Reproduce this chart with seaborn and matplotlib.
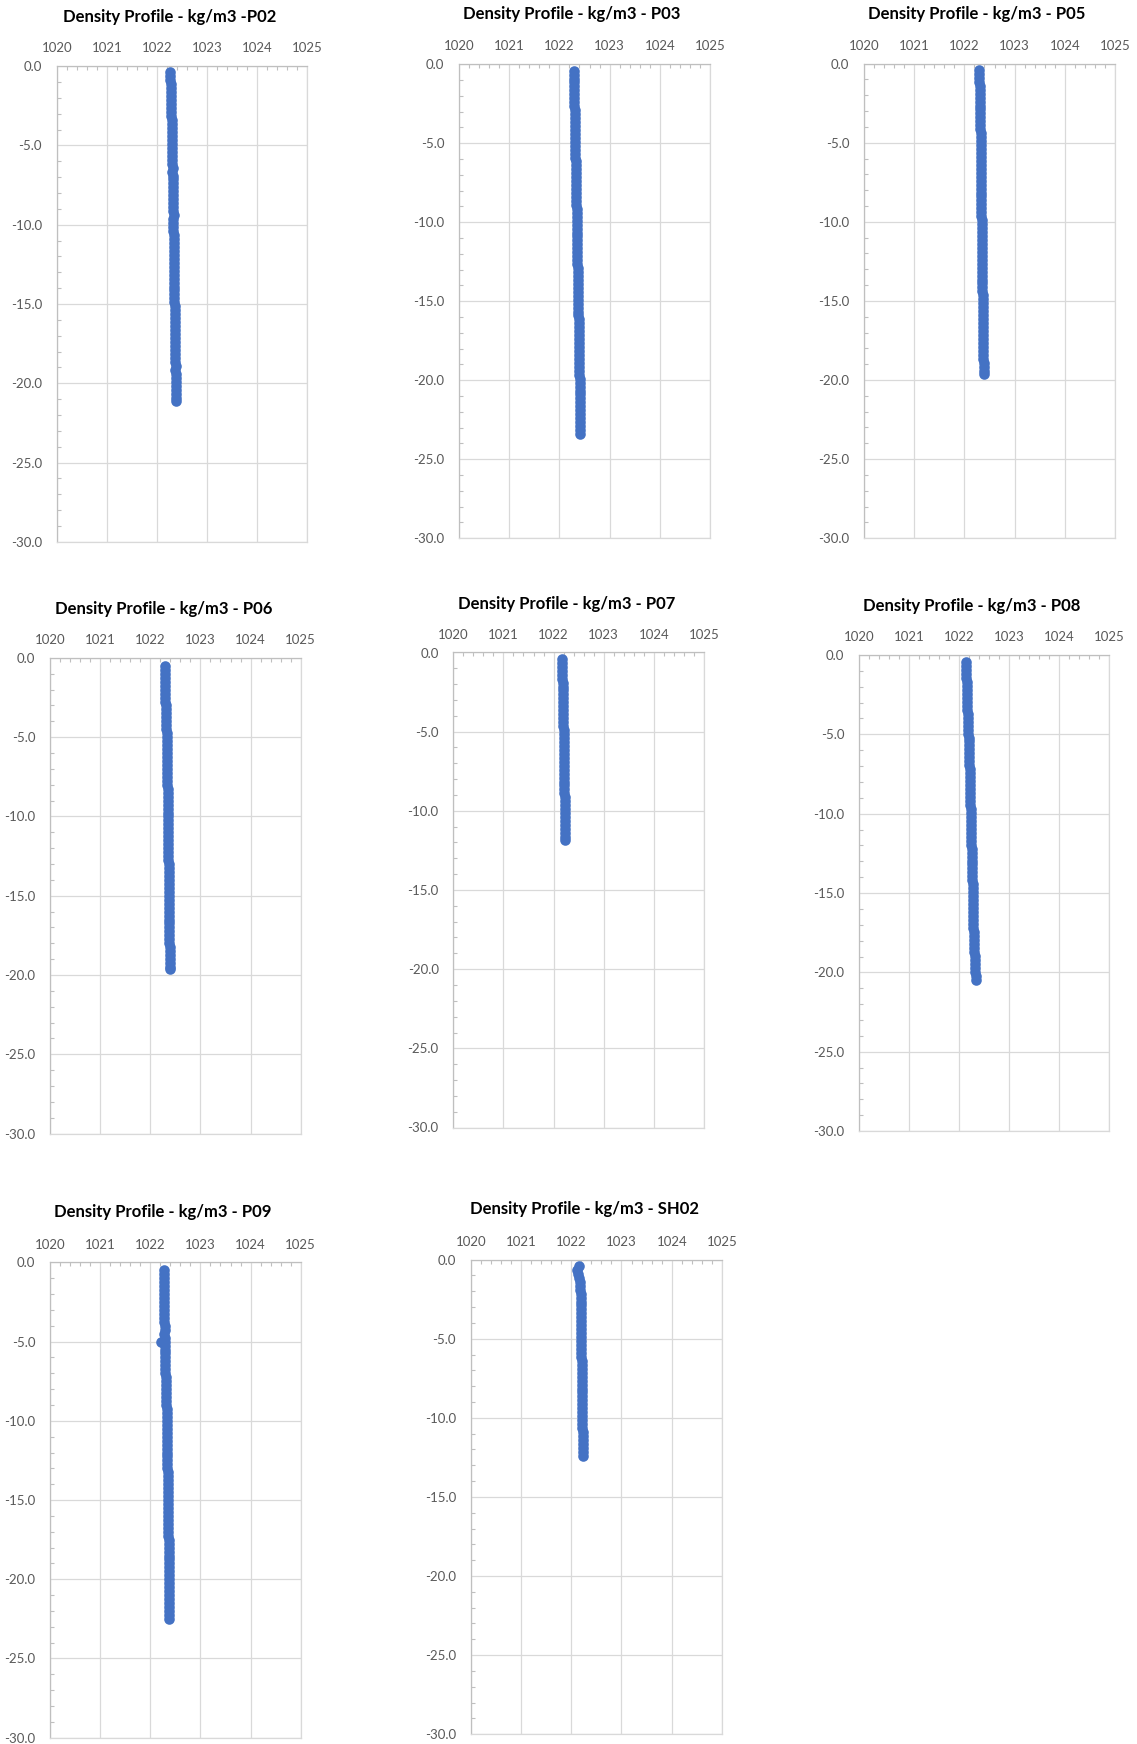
import numpy as np
import matplotlib
matplotlib.use("Agg")
import matplotlib.pyplot as plt
from matplotlib.ticker import MultipleLocator, FormatStrFormatter
import seaborn as sns

# station names
stations = ["P02", "P03", "P05", "P06", "P07", "P08", "P09", "SH02"]
titles = ["Density Profile - kg/m3 -P02", "Density Profile - kg/m3 - P03",
          "Density Profile - kg/m3 - P05", "Density Profile - kg/m3 - P06",
          "Density Profile - kg/m3 - P07", "Density Profile - kg/m3 - P08",
          "Density Profile - kg/m3 - P09", "Density Profile - kg/m3 - SH02"]

# depth (m, negative down) and density (kg/m3)
depth_p02 = [-0.40, -0.65, -0.90, -1.15, -1.40, -1.65, -1.90, -2.15, -2.40, -2.65,
             -2.90, -3.15, -3.40, -3.65, -3.90, -4.15, -4.40, -4.65, -4.90, -5.15,
             -5.40, -5.65, -5.90, -6.15, -6.40, -6.65, -6.90, -7.15, -7.40, -7.65,
             -7.90, -8.15, -8.40, -8.65, -8.90, -9.15, -9.40, -9.65, -9.90, -10.15,
             -10.40, -10.65, -10.90, -11.15, -11.40, -11.65, -11.90, -12.15, -12.40, -12.65,
             -12.90, -13.15, -13.40, -13.65, -13.90, -14.15, -14.40, -14.65, -14.90, -15.15,
             -15.40, -15.65, -15.90, -16.15, -16.40, -16.65, -16.90, -17.15, -17.40, -17.65,
             -17.90, -18.15, -18.40, -18.65, -18.90, -19.15, -19.40, -19.65, -19.90, -20.15,
             -20.40, -20.65, -20.90, -21.10]
dens_p02 = [1022.27, 1022.27, 1022.27, 1022.28, 1022.28, 1022.28, 1022.28, 1022.28, 1022.29, 1022.29,
            1022.29, 1022.29, 1022.30, 1022.30, 1022.30, 1022.30, 1022.30, 1022.31, 1022.31, 1022.31,
            1022.31, 1022.31, 1022.31, 1022.31, 1022.32, 1022.31, 1022.32, 1022.32, 1022.32, 1022.32,
            1022.32, 1022.32, 1022.33, 1022.33, 1022.33, 1022.33, 1022.34, 1022.33, 1022.33, 1022.33,
            1022.33, 1022.34, 1022.34, 1022.34, 1022.34, 1022.34, 1022.34, 1022.34, 1022.34, 1022.35,
            1022.35, 1022.35, 1022.35, 1022.35, 1022.35, 1022.35, 1022.35, 1022.35, 1022.35, 1022.36,
            1022.36, 1022.36, 1022.36, 1022.36, 1022.37, 1022.36, 1022.37, 1022.37, 1022.37, 1022.37,
            1022.37, 1022.37, 1022.37, 1022.37, 1022.38, 1022.37, 1022.38, 1022.38, 1022.38, 1022.38,
            1022.38, 1022.38, 1022.38, 1022.38]

depth_p03 = [-0.40, -0.65, -0.90, -1.15, -1.40, -1.65, -1.90, -2.15, -2.40, -2.65,
             -2.90, -3.15, -3.40, -3.65, -3.90, -4.15, -4.40, -4.65, -4.90, -5.15,
             -5.40, -5.65, -5.90, -6.15, -6.40, -6.65, -6.90, -7.15, -7.40, -7.65,
             -7.90, -8.15, -8.40, -8.65, -8.90, -9.15, -9.40, -9.65, -9.90, -10.15,
             -10.40, -10.65, -10.90, -11.15, -11.40, -11.65, -11.90, -12.15, -12.40, -12.65,
             -12.90, -13.15, -13.40, -13.65, -13.90, -14.15, -14.40, -14.65, -14.90, -15.15,
             -15.40, -15.65, -15.90, -16.15, -16.40, -16.65, -16.90, -17.15, -17.40, -17.65,
             -17.90, -18.15, -18.40, -18.65, -18.90, -19.15, -19.40, -19.65, -19.90, -20.15,
             -20.40, -20.65, -20.90, -21.15, -21.40, -21.65, -21.90, -22.15, -22.40, -22.65,
             -22.90, -23.15, -23.40]
dens_p03 = [1022.29, 1022.29, 1022.29, 1022.29, 1022.30, 1022.30, 1022.30, 1022.30, 1022.30, 1022.30,
            1022.31, 1022.31, 1022.31, 1022.31, 1022.31, 1022.31, 1022.32, 1022.32, 1022.32, 1022.32,
            1022.32, 1022.32, 1022.32, 1022.33, 1022.33, 1022.33, 1022.33, 1022.33, 1022.33, 1022.34,
            1022.34, 1022.34, 1022.34, 1022.34, 1022.34, 1022.35, 1022.35, 1022.35, 1022.35, 1022.35,
            1022.35, 1022.35, 1022.35, 1022.36, 1022.36, 1022.36, 1022.36, 1022.36, 1022.36, 1022.36,
            1022.37, 1022.37, 1022.37, 1022.37, 1022.37, 1022.37, 1022.38, 1022.38, 1022.38, 1022.38,
            1022.38, 1022.38, 1022.38, 1022.39, 1022.39, 1022.39, 1022.39, 1022.39, 1022.39, 1022.39,
            1022.40, 1022.40, 1022.40, 1022.40, 1022.40, 1022.40, 1022.40, 1022.40, 1022.41, 1022.41,
            1022.41, 1022.41, 1022.41, 1022.41, 1022.41, 1022.41, 1022.41, 1022.41, 1022.41, 1022.42,
            1022.42, 1022.42, 1022.42]

depth_p05 = [-0.40, -0.65, -0.90, -1.15, -1.40, -1.65, -1.90, -2.15, -2.40, -2.65,
             -2.90, -3.15, -3.40, -3.65, -3.90, -4.15, -4.40, -4.65, -4.90, -5.15,
             -5.40, -5.65, -5.90, -6.15, -6.40, -6.65, -6.90, -7.15, -7.40, -7.65,
             -7.90, -8.15, -8.40, -8.65, -8.90, -9.15, -9.40, -9.65, -9.90, -10.15,
             -10.40, -10.65, -10.90, -11.15, -11.40, -11.65, -11.90, -12.15, -12.40, -12.65,
             -12.90, -13.15, -13.40, -13.65, -13.90, -14.15, -14.40, -14.65, -14.90, -15.15,
             -15.40, -15.65, -15.90, -16.15, -16.40, -16.65, -16.90, -17.15, -17.40, -17.65,
             -17.90, -18.15, -18.40, -18.65, -18.90, -19.15, -19.40, -19.60]
dens_p05 = [1022.30, 1022.30, 1022.30, 1022.30, 1022.31, 1022.31, 1022.31, 1022.31, 1022.31, 1022.32,
            1022.32, 1022.32, 1022.32, 1022.32, 1022.32, 1022.32, 1022.33, 1022.33, 1022.33, 1022.33,
            1022.33, 1022.33, 1022.33, 1022.33, 1022.33, 1022.34, 1022.34, 1022.34, 1022.34, 1022.34,
            1022.34, 1022.34, 1022.34, 1022.34, 1022.34, 1022.34, 1022.34, 1022.34, 1022.35, 1022.35,
            1022.35, 1022.35, 1022.35, 1022.35, 1022.35, 1022.35, 1022.35, 1022.36, 1022.35, 1022.36,
            1022.36, 1022.36, 1022.36, 1022.36, 1022.36, 1022.36, 1022.36, 1022.37, 1022.37, 1022.37,
            1022.37, 1022.37, 1022.37, 1022.37, 1022.37, 1022.38, 1022.37, 1022.38, 1022.38, 1022.38,
            1022.38, 1022.38, 1022.38, 1022.38, 1022.39, 1022.39, 1022.39, 1022.39]

depth_p06 = [-0.50, -0.75, -1.00, -1.25, -1.50, -1.75, -2.00, -2.25, -2.50, -2.75,
             -3.00, -3.25, -3.50, -3.75, -4.00, -4.25, -4.50, -4.75, -5.00, -5.25,
             -5.50, -5.75, -6.00, -6.25, -6.50, -6.75, -7.00, -7.25, -7.50, -7.75,
             -8.00, -8.25, -8.50, -8.75, -9.00, -9.25, -9.50, -9.75, -10.00, -10.25,
             -10.50, -10.75, -11.00, -11.25, -11.50, -11.75, -12.00, -12.25, -12.50, -12.75,
             -13.00, -13.25, -13.50, -13.75, -14.00, -14.25, -14.50, -14.75, -15.00, -15.25,
             -15.50, -15.75, -16.00, -16.25, -16.50, -16.75, -17.00, -17.25, -17.50, -17.75,
             -18.00, -18.25, -18.50, -18.75, -19.00, -19.25, -19.50, -19.65]
dens_p06 = [1022.29, 1022.29, 1022.29, 1022.29, 1022.30, 1022.30, 1022.30, 1022.30, 1022.30, 1022.30,
            1022.31, 1022.31, 1022.31, 1022.31, 1022.32, 1022.32, 1022.32, 1022.33, 1022.33, 1022.33,
            1022.33, 1022.33, 1022.33, 1022.33, 1022.34, 1022.34, 1022.34, 1022.34, 1022.34, 1022.34,
            1022.34, 1022.35, 1022.35, 1022.35, 1022.35, 1022.35, 1022.35, 1022.35, 1022.35, 1022.35,
            1022.35, 1022.36, 1022.36, 1022.36, 1022.36, 1022.36, 1022.36, 1022.36, 1022.36, 1022.36,
            1022.37, 1022.37, 1022.37, 1022.37, 1022.37, 1022.37, 1022.37, 1022.37, 1022.37, 1022.37,
            1022.37, 1022.38, 1022.38, 1022.38, 1022.38, 1022.38, 1022.38, 1022.38, 1022.38, 1022.38,
            1022.38, 1022.39, 1022.39, 1022.39, 1022.39, 1022.39, 1022.39, 1022.39]

depth_p07 = [-0.40, -0.65, -0.90, -1.15, -1.40, -1.65, -1.90, -2.15, -2.40, -2.65,
             -2.90, -3.15, -3.40, -3.65, -3.90, -4.15, -4.40, -4.65, -4.90, -5.15,
             -5.40, -5.65, -5.90, -6.15, -6.40, -6.65, -6.90, -7.15, -7.40, -7.65,
             -7.90, -8.15, -8.40, -8.65, -8.90, -9.15, -9.40, -9.65, -9.90, -10.15,
             -10.40, -10.65, -10.90, -11.15, -11.40, -11.65, -11.85]
dens_p07 = [1022.17, 1022.17, 1022.17, 1022.17, 1022.17, 1022.17, 1022.18, 1022.18, 1022.18, 1022.18,
            1022.18, 1022.18, 1022.19, 1022.19, 1022.19, 1022.19, 1022.19, 1022.19, 1022.20, 1022.20,
            1022.20, 1022.20, 1022.20, 1022.20, 1022.20, 1022.21, 1022.20, 1022.21, 1022.21, 1022.21,
            1022.21, 1022.21, 1022.21, 1022.21, 1022.21, 1022.22, 1022.22, 1022.22, 1022.22, 1022.22,
            1022.22, 1022.22, 1022.22, 1022.23, 1022.23, 1022.23, 1022.23]

depth_p08 = [-0.45, -0.70, -0.95, -1.20, -1.45, -1.70, -1.95, -2.20, -2.45, -2.70,
             -2.95, -3.20, -3.45, -3.70, -3.95, -4.20, -4.45, -4.70, -4.95, -5.20,
             -5.45, -5.70, -5.95, -6.20, -6.45, -6.70, -6.95, -7.20, -7.45, -7.70,
             -7.95, -8.20, -8.45, -8.70, -8.95, -9.20, -9.45, -9.70, -9.95, -10.20,
             -10.45, -10.70, -10.95, -11.20, -11.45, -11.70, -11.95, -12.20, -12.45, -12.70,
             -12.95, -13.20, -13.45, -13.70, -13.95, -14.20, -14.45, -14.70, -14.95, -15.20,
             -15.45, -15.70, -15.95, -16.20, -16.45, -16.70, -16.95, -17.20, -17.45, -17.70,
             -17.95, -18.20, -18.45, -18.70, -18.95, -19.20, -19.45, -19.70, -19.95, -20.20,
             -20.45]
dens_p08 = [1022.14, 1022.14, 1022.14, 1022.14, 1022.14, 1022.15, 1022.15, 1022.15, 1022.15, 1022.15,
            1022.16, 1022.16, 1022.16, 1022.17, 1022.17, 1022.17, 1022.18, 1022.18, 1022.18, 1022.19,
            1022.19, 1022.19, 1022.19, 1022.20, 1022.20, 1022.20, 1022.20, 1022.21, 1022.21, 1022.21,
            1022.21, 1022.21, 1022.22, 1022.22, 1022.22, 1022.22, 1022.22, 1022.23, 1022.23, 1022.23,
            1022.23, 1022.23, 1022.24, 1022.24, 1022.24, 1022.24, 1022.24, 1022.25, 1022.25, 1022.25,
            1022.25, 1022.26, 1022.26, 1022.26, 1022.26, 1022.26, 1022.27, 1022.27, 1022.27, 1022.27,
            1022.27, 1022.27, 1022.28, 1022.28, 1022.28, 1022.28, 1022.28, 1022.28, 1022.29, 1022.29,
            1022.29, 1022.30, 1022.30, 1022.30, 1022.31, 1022.31, 1022.31, 1022.32, 1022.32, 1022.33,
            1022.33]

depth_p09 = [-0.50, -0.75, -1.00, -1.25, -1.50, -1.75, -2.00, -2.25, -2.50, -2.75,
             -3.00, -3.25, -3.50, -3.75, -4.00, -4.25, -4.50, -4.75, -5.00, -5.25,
             -5.50, -5.75, -6.00, -6.25, -6.50, -6.75, -7.00, -7.25, -7.50, -7.75,
             -8.00, -8.25, -8.50, -8.75, -9.00, -9.25, -9.50, -9.75, -10.00, -10.25,
             -10.50, -10.75, -11.00, -11.25, -11.50, -11.75, -12.00, -12.25, -12.50, -12.75,
             -13.00, -13.25, -13.50, -13.75, -14.00, -14.25, -14.50, -14.75, -15.00, -15.25,
             -15.50, -15.75, -16.00, -16.25, -16.50, -16.75, -17.00, -17.25, -17.50, -17.75,
             -18.00, -18.25, -18.50, -18.75, -19.00, -19.25, -19.50, -19.75, -20.00, -20.25,
             -20.50, -20.75, -21.00, -21.25, -21.50, -21.75, -22.00, -22.25, -22.50, -5.05]
dens_p09 = [1022.27, 1022.27, 1022.27, 1022.27, 1022.27, 1022.27, 1022.28, 1022.28, 1022.28, 1022.28,
            1022.28, 1022.28, 1022.28, 1022.28, 1022.29, 1022.29, 1022.28, 1022.29, 1022.29, 1022.29,
            1022.29, 1022.29, 1022.30, 1022.30, 1022.30, 1022.30, 1022.30, 1022.31, 1022.31, 1022.31,
            1022.31, 1022.32, 1022.32, 1022.32, 1022.32, 1022.33, 1022.33, 1022.33, 1022.33, 1022.33,
            1022.33, 1022.33, 1022.33, 1022.34, 1022.34, 1022.34, 1022.34, 1022.34, 1022.34, 1022.34,
            1022.34, 1022.35, 1022.35, 1022.35, 1022.35, 1022.35, 1022.35, 1022.35, 1022.35, 1022.35,
            1022.36, 1022.36, 1022.36, 1022.36, 1022.36, 1022.36, 1022.36, 1022.36, 1022.37, 1022.37,
            1022.37, 1022.37, 1022.37, 1022.37, 1022.37, 1022.37, 1022.37, 1022.37, 1022.37, 1022.37,
            1022.38, 1022.38, 1022.38, 1022.38, 1022.38, 1022.38, 1022.38, 1022.38, 1022.38, 1022.21]

depth_sh02 = [-0.40, -0.65, -0.90, -1.15, -1.40, -1.65, -1.90, -2.15, -2.40, -2.65,
              -2.90, -3.15, -3.40, -3.65, -3.90, -4.15, -4.40, -4.65, -4.90, -5.15,
              -5.40, -5.65, -5.90, -6.15, -6.40, -6.65, -6.90, -7.15, -7.40, -7.65,
              -7.90, -8.15, -8.40, -8.65, -8.90, -9.15, -9.40, -9.65, -9.90, -10.15,
              -10.40, -10.65, -10.90, -11.15, -11.40, -11.65, -11.90, -12.15, -12.40]
dens_sh02 = [1022.16, 1022.11, 1022.13, 1022.15, 1022.17, 1022.18, 1022.18, 1022.19, 1022.19, 1022.19,
             1022.19, 1022.19, 1022.19, 1022.20, 1022.20, 1022.20, 1022.20, 1022.20, 1022.20, 1022.20,
             1022.20, 1022.20, 1022.20, 1022.20, 1022.21, 1022.21, 1022.21, 1022.21, 1022.21, 1022.21,
             1022.21, 1022.21, 1022.21, 1022.22, 1022.22, 1022.22, 1022.22, 1022.22, 1022.22, 1022.22,
             1022.22, 1022.22, 1022.23, 1022.23, 1022.23, 1022.23, 1022.23, 1022.24, 1022.24]

depths = [depth_p02, depth_p03, depth_p05, depth_p06, depth_p07, depth_p08, depth_p09, depth_sh02]
densities = [dens_p02, dens_p03, dens_p05, dens_p06, dens_p07, dens_p08, dens_p09, dens_sh02]

# layout in pixels of the 1137x1744 canvas: plot box (l, t, r, b) and title centre
W, H = 1137, 1744
boxes = [(56.7, 66.1, 307.3, 541.8), (459, 64.3, 710, 538.2), (864, 63.6, 1115, 538.2),
         (50, 657.9, 300.7, 1133.6), (453.3, 652.5, 704, 1127.5), (859, 655, 1109.3, 1131.1),
         (50, 1262.4, 300.7, 1737.7), (470.7, 1259.6, 722, 1734.2)]
title_pos = [(170, 16.8), (571.7, 13.6), (976.7, 13.6),
             (163.3, 609.3), (566.7, 603.9), (971.7, 605.7),
             (163, 1211.9), (584, 1209.4)]

sns.set_theme(style="white")
plt.rcParams['font.family'] = ['Lato', 'DejaVu Sans']
plt.rcParams['axes.unicode_minus'] = False

BLUE = "#4472C4"
GRID = "#D9D9D9"
AXIS = "#BFBFBF"
LABEL = "#595959"

fig = plt.figure(figsize=(W / 100, H / 100), dpi=100)

for i in range(len(stations)):
    l, t, r, b = boxes[i]
    ax = fig.add_axes([l / W, 1 - b / H, (r - l) / W, (b - t) / H])
    sns.scatterplot(x=densities[i], y=depths[i], ax=ax, color=BLUE, s=58,
                    linewidth=0, zorder=3)
    ax.set_xlim(1020, 1025)
    ax.set_ylim(-30, 0)
    ax.xaxis.set_major_locator(MultipleLocator(1))
    ax.xaxis.set_minor_locator(MultipleLocator(0.2))
    ax.yaxis.set_major_locator(MultipleLocator(5))
    ax.yaxis.set_minor_locator(MultipleLocator(1))
    ax.yaxis.set_major_formatter(FormatStrFormatter('%.1f'))
    ax.xaxis.set_ticks_position('top')
    ax.grid(True, which='major', color=GRID, linewidth=0.9, zorder=0)
    ax.set_axisbelow(True)
    ax.tick_params(axis='x', which='major', length=0, pad=8.5, labelsize=9.5,
                   labelcolor=LABEL, top=True, bottom=False)
    ax.tick_params(axis='y', which='major', length=0, pad=10.5, labelsize=9.5,
                   labelcolor=LABEL)
    ax.tick_params(which='minor', direction='in', length=3, width=0.8, color=AXIS,
                   top=True, bottom=False, left=True, right=False)
    for side in ['left', 'top']:
        ax.spines[side].set_color(AXIS)
        ax.spines[side].set_linewidth(0.9)
    for side in ['right', 'bottom']:
        ax.spines[side].set_color(GRID)
        ax.spines[side].set_linewidth(0.9)
    ax.set_xlabel("")
    ax.set_ylabel("")
    tx, ty = title_pos[i]
    fig.text(tx / W, 1 - ty / H, titles[i], ha='center', va='center',
             fontsize=12, fontweight='bold', color='#000000')

fig.savefig("out.png", dpi=100, facecolor="white")
